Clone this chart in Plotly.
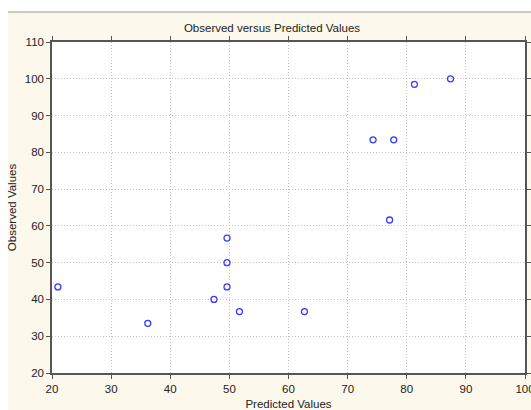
import plotly.graph_objects as go

predicted = [21.0, 36.2, 47.4, 49.6, 49.6, 49.6, 51.7, 62.7, 74.3, 77.8, 77.1, 81.3, 87.4]
observed = [43.4, 33.5, 40.0, 43.4, 50.0, 56.7, 36.7, 36.7, 83.4, 83.4, 61.6, 98.5, 100.0]
x_ticks = [20, 30, 40, 50, 60, 70, 80, 90, 100]
y_ticks = [20, 30, 40, 50, 60, 70, 80, 90, 100, 110]

W, H = 531, 410
L, R, T, B = 52, 6, 42, 37
pw, ph = W - L - R, H - T - B

def px(x):
    return (x - L) / pw

def py(y):
    return (H - B - y) / ph

fig = go.Figure()
fig.add_trace(go.Scatter(
    x=predicted, y=observed, mode="markers",
    marker=dict(symbol="circle-open", size=6, color="#3a3aff", line=dict(width=1.3, color="#3a3aff")),
    showlegend=False, cliponaxis=False, hoverinfo="skip",
))

font = "Liberation Sans, Arial, sans-serif"
axis_common = dict(
    showgrid=True, gridcolor="#c4c4c4", griddash="1px,2px", gridwidth=1,
    showline=True, linecolor="#555555", linewidth=1.5, mirror="ticks",
    ticks="outside", ticklen=4, tickcolor="#555555", tickwidth=1,
    zeroline=False, tickfont=dict(family=font, size=11.5, color="#222222"),
    ticklabeloverflow="allow",
)

fig.update_layout(
    width=W, height=H,
    margin=dict(l=L, r=R, t=T, b=B, autoexpand=False),
    paper_bgcolor="white", plot_bgcolor="white",
    title=dict(text="Observed versus Predicted Values", x=(272) / W, xanchor="center",
               y=1 - 27.5 / H, yanchor="middle",
               font=dict(family=font, size=11.5, color="#222222")),
    xaxis=dict(range=[20, 100.0001], tickmode="array", tickvals=x_ticks,
               ticktext=[str(v) for v in x_ticks],
               title=dict(text="Predicted Values", standoff=6,
                          font=dict(family=font, size=11.5, color="#222222")),
               **axis_common),
    yaxis=dict(range=[20, 110], tickmode="array", tickvals=y_ticks,
               ticktext=[str(v) for v in y_ticks],
               title=dict(text="Observed Values", standoff=6,
                          font=dict(family=font, size=11.5, color="#222222")),
               **axis_common),
    shapes=[
        dict(type="rect", xref="paper", yref="paper", layer="below",
             x0=px(8), x1=px(W + 2), y0=py(H + 2), y1=py(12),
             fillcolor="#fdf8ec", line=dict(width=0)),
        dict(type="rect", xref="paper", yref="paper", layer="below",
             x0=0, x1=1, y0=0, y1=1, fillcolor="white", line=dict(width=0)),
        dict(type="line", xref="paper", yref="paper", layer="below",
             x0=px(8), x1=px(W + 2), y0=py(12), y1=py(12),
             line=dict(color="#9a9a9a", width=1.2)),
    ],
)

fig.write_html("out.html", config={"displayModeBar": False},
               post_script="document.body.style.margin='0';document.body.style.overflow='hidden';")
